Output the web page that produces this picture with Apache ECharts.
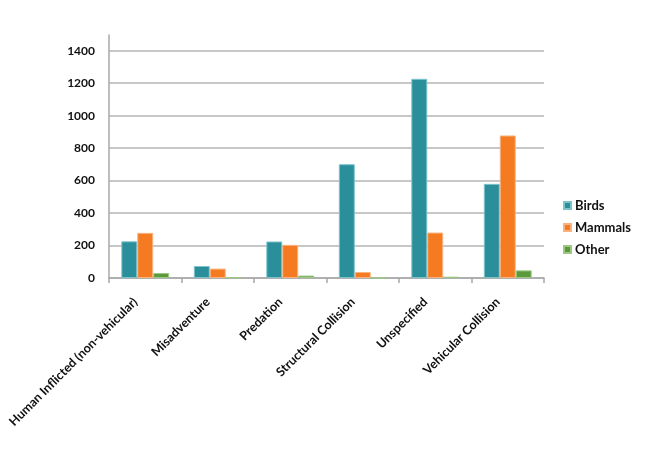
<!DOCTYPE html>
<html><head><meta charset="utf-8">
<script src="https://cdn.jsdelivr.net/npm/echarts@6/dist/echarts.min.js"></script>
<style>html,body{margin:0;padding:0;background:#fff}#c{width:650px;height:455px}</style>
</head><body><div id="c"></div>
<script>
var categories = ['Human Inflicted (non-vehicular)', 'Misadventure', 'Predation', 'Structural Collision', 'Unspecified', 'Vehicular Collision'];
var birds = [226, 74, 225, 701, 1227, 580];
var mammals = [278, 58, 204, 37, 280, 878];
var other = [31, 4, 15, 0, 8, 47];
var yTicks = [0, 200, 400, 600, 800, 1000, 1200, 1400];

var font = 'Lato';
var chart = echarts.init(document.getElementById('c'));
function ser(name, data, color, border) {
  return {name: name, type: 'bar', data: data, barGap: '0%', barCategoryGap: '34%',
    itemStyle: {color: color, borderColor: border, borderWidth: 1}};
}
chart.setOption({
  animation: false,
  backgroundColor: '#fff',
  textStyle: {fontFamily: font},
  grid: {left: 109, right: 106, top: 35, bottom: 177},
  legend: {orient: 'vertical', left: 558, top: 194, itemWidth: 7, itemHeight: 7, itemGap: 9,
    icon: 'rect',
    textStyle: {fontFamily: font, fontWeight: 'bold', fontSize: 13, color: '#111', padding: [0,0,0,-1]},
    data: ['Birds', 'Mammals', 'Other']},
  xAxis: {type: 'category', data: categories,
    axisLine: {lineStyle: {color: '#a8a8a8', width: 1.5}},
    axisTick: {show: true, alignWithLabel: false, length: 5, lineStyle: {color: '#a8a8a8', width: 1.5}},
    axisLabel: {rotate: 45, margin: 12, padding: [0, 14, 0, 0], fontFamily: font, fontWeight: 'bold', fontSize: 12.5, color: '#111', interval: 0}},
  yAxis: {type: 'value', min: 0, max: 1497, interval: 200,
    axisLine: {show: true, lineStyle: {color: '#a8a8a8', width: 1.5}},
    axisTick: {show: false},
    splitLine: {show: true, showMaxLine: false, lineStyle: {color: '#b4b4b4', width: 1.5}},
    axisLabel: {showMaxLabel: false, margin: 14, fontFamily: font, fontWeight: 'bold', fontSize: 12, color: '#111',
      formatter: function (v) { return yTicks.indexOf(v) >= 0 ? String(v) : ''; }}},
  series: [
    ser('Birds', birds, '#2B8F9B', '#7cc3cc'),
    ser('Mammals', mammals, '#F47B21', '#f9b27e'),
    ser('Other', other, '#5A9A3A', '#9cc784')
  ]
});
</script></body></html>
